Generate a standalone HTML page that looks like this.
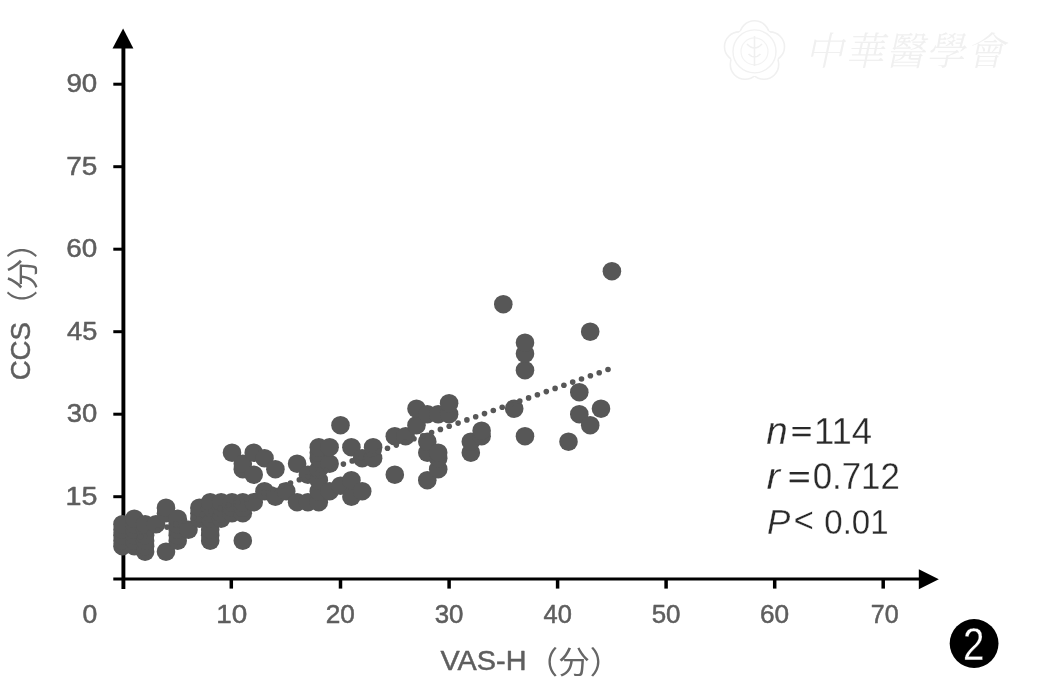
<!DOCTYPE html>
<html lang="zh"><head><meta charset="utf-8"><title>VAS-H / CCS</title>
<style>html,body{margin:0;padding:0;background:#fff;}body{width:1044px;height:699px;overflow:hidden;}svg{display:block;}text{font-family:"Liberation Sans","Noto Sans CJK SC",sans-serif;}text.wm{font-family:"Liberation Serif","Noto Serif CJK SC",serif;font-weight:300;}</style></head><body>
<svg width="1044" height="699" viewBox="0 0 1044 699">
<rect width="1044" height="699" fill="#ffffff"/>
<g id="chart">
<g id="watermark">
<circle cx="754.5" cy="35.6" r="14.8" fill="none" stroke="#f0f0f0" stroke-width="1.6"/><circle cx="769.7" cy="46.7" r="14.8" fill="none" stroke="#f0f0f0" stroke-width="1.6"/><circle cx="763.9" cy="64.5" r="14.8" fill="none" stroke="#f0f0f0" stroke-width="1.6"/><circle cx="745.1" cy="64.5" r="14.8" fill="none" stroke="#f0f0f0" stroke-width="1.6"/><circle cx="739.3" cy="46.7" r="14.8" fill="none" stroke="#f0f0f0" stroke-width="1.6"/>
<circle cx="754.5" cy="51.4" r="24.5" fill="#ffffff" stroke="none"/>
<circle cx="754.5" cy="51.4" r="21.5" fill="none" stroke="#f1f1f1" stroke-width="1.4"/>
<circle cx="754.5" cy="51.4" r="13.5" fill="none" stroke="#f3f3f3" stroke-width="1.2"/>
<path d="M754.5 36 V66 M747 44 Q754.5 52 762 44 M748.5 54 Q754.5 60 760.5 54" fill="none" stroke="#f0f0f0" stroke-width="1.6"/>
<g font-size="39" transform="skewX(-12)">
<text class="wm" x="819.0 859.3 899.6 939.9 980.2" y="65.5" fill="#f0f0f0">中華醫學會</text>
</g>
</g>
<g id="axes" stroke="#000" fill="none">
<line x1="123.4" y1="46" x2="123.4" y2="589" stroke-width="3.9"/>
<line x1="113.3" y1="579.0" x2="920" y2="579.0" stroke-width="3.0"/>
<line x1="113.3" y1="496.7" x2="123.4" y2="496.7" stroke-width="3.0"/>
<line x1="113.3" y1="414.2" x2="123.4" y2="414.2" stroke-width="3.0"/>
<line x1="113.3" y1="331.7" x2="123.4" y2="331.7" stroke-width="3.0"/>
<line x1="113.3" y1="249.2" x2="123.4" y2="249.2" stroke-width="3.0"/>
<line x1="113.3" y1="166.7" x2="123.4" y2="166.7" stroke-width="3.0"/>
<line x1="113.3" y1="84.2" x2="123.4" y2="84.2" stroke-width="3.0"/>
<line x1="231.3" y1="579.0" x2="231.3" y2="588.6" stroke-width="3.5"/>
<line x1="340.5" y1="579.0" x2="340.5" y2="588.6" stroke-width="3.5"/>
<line x1="449.1" y1="579.0" x2="449.1" y2="588.6" stroke-width="3.5"/>
<line x1="557.6" y1="579.0" x2="557.6" y2="588.6" stroke-width="3.5"/>
<line x1="666.1" y1="579.0" x2="666.1" y2="588.6" stroke-width="3.5"/>
<line x1="774.7" y1="579.0" x2="774.7" y2="588.6" stroke-width="3.5"/>
<line x1="883.2" y1="579.0" x2="883.2" y2="588.6" stroke-width="3.5"/>
</g>
<polygon points="123.1,28.4 133.4,48.6 112.5,48.6" fill="#000"/>
<polygon points="938.8,579.2 918.8,569.2 918.8,589.2" fill="#000"/>
<g id="dots" fill="#575757">
<circle cx="122.5" cy="546.2" r="9.3"/>
<circle cx="122.5" cy="540.7" r="9.3"/>
<circle cx="122.5" cy="535.2" r="9.3"/>
<circle cx="122.5" cy="529.7" r="9.3"/>
<circle cx="122.5" cy="524.2" r="9.3"/>
<circle cx="134.3" cy="546.2" r="9.3"/>
<circle cx="134.3" cy="540.7" r="9.3"/>
<circle cx="134.3" cy="535.2" r="9.3"/>
<circle cx="134.3" cy="529.7" r="9.3"/>
<circle cx="134.3" cy="524.2" r="9.3"/>
<circle cx="134.3" cy="518.7" r="9.3"/>
<circle cx="145.1" cy="551.7" r="9.3"/>
<circle cx="145.1" cy="546.2" r="9.3"/>
<circle cx="145.1" cy="540.7" r="9.3"/>
<circle cx="145.1" cy="535.2" r="9.3"/>
<circle cx="145.1" cy="529.7" r="9.3"/>
<circle cx="145.1" cy="524.2" r="9.3"/>
<circle cx="156.0" cy="524.2" r="9.3"/>
<circle cx="166.0" cy="551.7" r="9.3"/>
<circle cx="166.0" cy="513.2" r="9.3"/>
<circle cx="166.0" cy="507.7" r="9.3"/>
<circle cx="177.7" cy="540.7" r="9.3"/>
<circle cx="177.7" cy="535.2" r="9.3"/>
<circle cx="177.7" cy="529.7" r="9.3"/>
<circle cx="177.7" cy="524.2" r="9.3"/>
<circle cx="177.7" cy="518.7" r="9.3"/>
<circle cx="188.5" cy="529.7" r="9.3"/>
<circle cx="199.4" cy="518.7" r="9.3"/>
<circle cx="199.4" cy="513.2" r="9.3"/>
<circle cx="199.4" cy="507.7" r="9.3"/>
<circle cx="210.2" cy="540.7" r="9.3"/>
<circle cx="210.2" cy="535.2" r="9.3"/>
<circle cx="210.2" cy="529.7" r="9.3"/>
<circle cx="210.2" cy="518.7" r="9.3"/>
<circle cx="210.2" cy="513.2" r="9.3"/>
<circle cx="210.2" cy="507.7" r="9.3"/>
<circle cx="210.2" cy="502.2" r="9.3"/>
<circle cx="221.1" cy="518.7" r="9.3"/>
<circle cx="221.1" cy="513.2" r="9.3"/>
<circle cx="221.1" cy="507.7" r="9.3"/>
<circle cx="221.1" cy="502.2" r="9.3"/>
<circle cx="232.0" cy="513.2" r="9.3"/>
<circle cx="232.0" cy="507.7" r="9.3"/>
<circle cx="232.0" cy="502.2" r="9.3"/>
<circle cx="232.0" cy="452.7" r="9.3"/>
<circle cx="242.8" cy="540.7" r="9.3"/>
<circle cx="242.8" cy="513.2" r="9.3"/>
<circle cx="242.8" cy="507.7" r="9.3"/>
<circle cx="242.8" cy="502.2" r="9.3"/>
<circle cx="242.8" cy="469.2" r="9.3"/>
<circle cx="242.8" cy="463.7" r="9.3"/>
<circle cx="253.7" cy="502.2" r="9.3"/>
<circle cx="253.7" cy="474.7" r="9.3"/>
<circle cx="253.7" cy="452.7" r="9.3"/>
<circle cx="264.5" cy="491.2" r="9.3"/>
<circle cx="264.5" cy="458.2" r="9.3"/>
<circle cx="275.4" cy="496.7" r="9.3"/>
<circle cx="275.4" cy="469.2" r="9.3"/>
<circle cx="286.2" cy="491.2" r="9.3"/>
<circle cx="297.1" cy="502.2" r="9.3"/>
<circle cx="297.1" cy="463.7" r="9.3"/>
<circle cx="307.9" cy="502.2" r="9.3"/>
<circle cx="307.9" cy="474.7" r="9.3"/>
<circle cx="318.8" cy="502.2" r="9.3"/>
<circle cx="318.8" cy="491.2" r="9.3"/>
<circle cx="318.8" cy="480.2" r="9.3"/>
<circle cx="318.8" cy="469.2" r="9.3"/>
<circle cx="318.8" cy="458.2" r="9.3"/>
<circle cx="318.8" cy="452.7" r="9.3"/>
<circle cx="318.8" cy="447.2" r="9.3"/>
<circle cx="329.6" cy="491.2" r="9.3"/>
<circle cx="329.6" cy="463.7" r="9.3"/>
<circle cx="329.6" cy="447.2" r="9.3"/>
<circle cx="340.5" cy="485.7" r="9.3"/>
<circle cx="340.5" cy="425.2" r="9.3"/>
<circle cx="351.4" cy="496.7" r="9.3"/>
<circle cx="351.4" cy="480.2" r="9.3"/>
<circle cx="351.4" cy="447.2" r="9.3"/>
<circle cx="362.2" cy="491.2" r="9.3"/>
<circle cx="362.2" cy="458.2" r="9.3"/>
<circle cx="373.1" cy="458.2" r="9.3"/>
<circle cx="373.1" cy="447.2" r="9.3"/>
<circle cx="394.8" cy="474.7" r="9.3"/>
<circle cx="394.8" cy="436.2" r="9.3"/>
<circle cx="405.6" cy="436.2" r="9.3"/>
<circle cx="416.5" cy="425.2" r="9.3"/>
<circle cx="416.5" cy="408.7" r="9.3"/>
<circle cx="427.3" cy="480.2" r="9.3"/>
<circle cx="427.3" cy="452.7" r="9.3"/>
<circle cx="427.3" cy="441.7" r="9.3"/>
<circle cx="427.3" cy="414.2" r="9.3"/>
<circle cx="438.2" cy="469.2" r="9.3"/>
<circle cx="438.2" cy="458.2" r="9.3"/>
<circle cx="438.2" cy="452.7" r="9.3"/>
<circle cx="438.2" cy="414.2" r="9.3"/>
<circle cx="449.1" cy="414.2" r="9.3"/>
<circle cx="449.1" cy="403.2" r="9.3"/>
<circle cx="470.8" cy="452.7" r="9.3"/>
<circle cx="470.8" cy="441.7" r="9.3"/>
<circle cx="481.6" cy="436.2" r="9.3"/>
<circle cx="481.6" cy="430.7" r="9.3"/>
<circle cx="503.3" cy="304.2" r="9.3"/>
<circle cx="514.2" cy="408.7" r="9.3"/>
<circle cx="525.0" cy="436.2" r="9.3"/>
<circle cx="525.0" cy="370.2" r="9.3"/>
<circle cx="525.0" cy="353.7" r="9.3"/>
<circle cx="525.0" cy="342.7" r="9.3"/>
<circle cx="568.5" cy="441.7" r="9.3"/>
<circle cx="579.3" cy="414.2" r="9.3"/>
<circle cx="579.3" cy="392.2" r="9.3"/>
<circle cx="590.2" cy="425.2" r="9.3"/>
<circle cx="590.2" cy="331.7" r="9.3"/>
<circle cx="601.0" cy="408.7" r="9.3"/>
<circle cx="611.9" cy="271.2" r="9.3"/>
</g>
<g id="trend" fill="#575757">
<circle cx="608.0" cy="369.5" r="2.8"/>
<circle cx="599.2" cy="372.7" r="2.8"/>
<circle cx="590.4" cy="375.8" r="2.8"/>
<circle cx="581.5" cy="379.0" r="2.8"/>
<circle cx="572.7" cy="382.1" r="2.8"/>
<circle cx="563.9" cy="385.3" r="2.8"/>
<circle cx="555.1" cy="388.4" r="2.8"/>
<circle cx="546.3" cy="391.6" r="2.8"/>
<circle cx="537.4" cy="394.7" r="2.8"/>
<circle cx="528.6" cy="397.9" r="2.8"/>
<circle cx="519.8" cy="401.0" r="2.8"/>
<circle cx="511.0" cy="404.2" r="2.8"/>
<circle cx="502.2" cy="407.3" r="2.8"/>
<circle cx="493.3" cy="410.5" r="2.8"/>
<circle cx="484.5" cy="413.6" r="2.8"/>
<circle cx="475.7" cy="416.8" r="2.8"/>
<circle cx="466.9" cy="419.9" r="2.8"/>
<circle cx="458.1" cy="423.1" r="2.8"/>
<circle cx="449.2" cy="426.2" r="2.8"/>
<circle cx="440.4" cy="429.4" r="2.8"/>
<circle cx="431.6" cy="432.5" r="2.8"/>
<circle cx="422.8" cy="435.7" r="2.8"/>
<circle cx="414.0" cy="438.8" r="2.8"/>
<circle cx="405.1" cy="442.0" r="2.8"/>
<circle cx="396.3" cy="445.1" r="2.8"/>
<circle cx="387.5" cy="448.3" r="2.8"/>
<circle cx="378.7" cy="451.5" r="2.8"/>
<circle cx="369.9" cy="454.6" r="2.8"/>
<circle cx="361.0" cy="457.8" r="2.8"/>
<circle cx="352.2" cy="460.9" r="2.8"/>
<circle cx="343.4" cy="464.1" r="2.8"/>
<circle cx="334.6" cy="467.2" r="2.8"/>
<circle cx="325.8" cy="470.4" r="2.8"/>
<circle cx="316.9" cy="473.5" r="2.8"/>
<circle cx="308.1" cy="476.7" r="2.8"/>
<circle cx="299.3" cy="479.8" r="2.8"/>
<circle cx="290.5" cy="483.0" r="2.8"/>
<circle cx="281.7" cy="486.1" r="2.8"/>
<circle cx="272.8" cy="489.3" r="2.8"/>
<circle cx="264.0" cy="492.4" r="2.8"/>
<circle cx="255.2" cy="495.6" r="2.8"/>
<circle cx="246.4" cy="498.7" r="2.8"/>
<circle cx="237.6" cy="501.9" r="2.8"/>
<circle cx="228.7" cy="505.0" r="2.8"/>
<circle cx="219.9" cy="508.2" r="2.8"/>
<circle cx="211.1" cy="511.3" r="2.8"/>
<circle cx="202.3" cy="514.5" r="2.8"/>
<circle cx="193.5" cy="517.6" r="2.8"/>
<circle cx="184.6" cy="520.8" r="2.8"/>
<circle cx="175.8" cy="523.9" r="2.8"/>
<circle cx="167.0" cy="527.1" r="2.8"/>
<circle cx="158.2" cy="530.3" r="2.8"/>
<circle cx="149.4" cy="533.4" r="2.8"/>
<circle cx="140.5" cy="536.6" r="2.8"/>
</g>
<circle cx="974.1" cy="643.5" r="24.4" fill="#000"/>
<g id="labels">
<text><tspan x="65.50" y="504.50" font-family='"Liberation Sans","Noto Sans CJK SC",sans-serif' font-size="25.29" fill="#5e5e5e" stroke="#5e5e5e" stroke-width="0.50" stroke-linejoin="round" textLength="31.93" lengthAdjust="spacingAndGlyphs">15</tspan></text>
<text><tspan x="66.69" y="422.00" font-family='"Liberation Sans","Noto Sans CJK SC",sans-serif' font-size="24.93" fill="#5e5e5e" stroke="#5e5e5e" stroke-width="0.50" stroke-linejoin="round" textLength="30.55" lengthAdjust="spacingAndGlyphs">30</tspan></text>
<text><tspan x="67.11" y="339.50" font-family='"Liberation Sans","Noto Sans CJK SC",sans-serif' font-size="25.29" fill="#5e5e5e" stroke="#5e5e5e" stroke-width="0.50" stroke-linejoin="round" textLength="30.26" lengthAdjust="spacingAndGlyphs">45</tspan></text>
<text><tspan x="66.26" y="257.00" font-family='"Liberation Sans","Noto Sans CJK SC",sans-serif' font-size="24.93" fill="#5e5e5e" stroke="#5e5e5e" stroke-width="0.50" stroke-linejoin="round" textLength="31.00" lengthAdjust="spacingAndGlyphs">60</tspan></text>
<text><tspan x="66.25" y="174.50" font-family='"Liberation Sans","Noto Sans CJK SC",sans-serif' font-size="25.29" fill="#5e5e5e" stroke="#5e5e5e" stroke-width="0.50" stroke-linejoin="round" textLength="31.15" lengthAdjust="spacingAndGlyphs">75</tspan></text>
<text><tspan x="66.40" y="92.00" font-family='"Liberation Sans","Noto Sans CJK SC",sans-serif' font-size="24.93" fill="#5e5e5e" stroke="#5e5e5e" stroke-width="0.50" stroke-linejoin="round" textLength="30.85" lengthAdjust="spacingAndGlyphs">90</tspan></text>
<text><tspan x="82.42" y="623.20" font-family='"Liberation Sans","Noto Sans CJK SC",sans-serif' font-size="24.93" fill="#5e5e5e" stroke="#5e5e5e" stroke-width="0.50" stroke-linejoin="round" textLength="14.79" lengthAdjust="spacingAndGlyphs">0</tspan></text>
<text><tspan x="216.31" y="623.20" font-family='"Liberation Sans","Noto Sans CJK SC",sans-serif' font-size="24.93" fill="#5e5e5e" stroke="#5e5e5e" stroke-width="0.50" stroke-linejoin="round" textLength="31.00" lengthAdjust="spacingAndGlyphs">10</tspan></text>
<text><tspan x="325.74" y="623.20" font-family='"Liberation Sans","Noto Sans CJK SC",sans-serif' font-size="24.93" fill="#5e5e5e" stroke="#5e5e5e" stroke-width="0.50" stroke-linejoin="round" textLength="29.16" lengthAdjust="spacingAndGlyphs">20</tspan></text>
<text><tspan x="434.70" y="623.20" font-family='"Liberation Sans","Noto Sans CJK SC",sans-serif' font-size="24.93" fill="#5e5e5e" stroke="#5e5e5e" stroke-width="0.50" stroke-linejoin="round" textLength="28.74" lengthAdjust="spacingAndGlyphs">30</tspan></text>
<text><tspan x="543.64" y="623.20" font-family='"Liberation Sans","Noto Sans CJK SC",sans-serif' font-size="24.93" fill="#5e5e5e" stroke="#5e5e5e" stroke-width="0.50" stroke-linejoin="round" textLength="28.33" lengthAdjust="spacingAndGlyphs">40</tspan></text>
<text><tspan x="651.66" y="623.20" font-family='"Liberation Sans","Noto Sans CJK SC",sans-serif' font-size="24.93" fill="#5e5e5e" stroke="#5e5e5e" stroke-width="0.50" stroke-linejoin="round" textLength="28.88" lengthAdjust="spacingAndGlyphs">50</tspan></text>
<text><tspan x="759.94" y="623.20" font-family='"Liberation Sans","Noto Sans CJK SC",sans-serif' font-size="24.93" fill="#5e5e5e" stroke="#5e5e5e" stroke-width="0.50" stroke-linejoin="round" textLength="29.16" lengthAdjust="spacingAndGlyphs">60</tspan></text>
<text><tspan x="870.75" y="623.20" font-family='"Liberation Sans","Noto Sans CJK SC",sans-serif' font-size="24.93" fill="#5e5e5e" stroke="#5e5e5e" stroke-width="0.50" stroke-linejoin="round" textLength="27.86" lengthAdjust="spacingAndGlyphs">70</tspan></text>
<text><tspan x="440.55" y="670.27" font-family='"Liberation Sans","Noto Sans CJK SC",sans-serif' font-size="27.55" fill="#5e5e5e" stroke="#5e5e5e" stroke-width="0.50" stroke-linejoin="round" textLength="85.92" lengthAdjust="spacingAndGlyphs">VAS-H</tspan><tspan x="526.57" y="673.37" font-family='"Noto Sans CJK SC","Liberation Sans",sans-serif' font-size="30.89" fill="#666666" textLength="94.92" lengthAdjust="spacingAndGlyphs">（分）</tspan></text>
<text transform="rotate(-90)"><tspan x="-380.33" y="30.36" font-family='"Liberation Sans","Noto Sans CJK SC",sans-serif' font-size="28.53" fill="#5e5e5e" stroke="#5e5e5e" stroke-width="0.50" stroke-linejoin="round" textLength="58.34" lengthAdjust="spacingAndGlyphs">CCS</tspan><tspan x="-321.55" y="33.63" font-family='"Noto Sans CJK SC","Liberation Sans",sans-serif' font-size="31.31" fill="#666666" textLength="94.55" lengthAdjust="spacingAndGlyphs">（分）</tspan></text>
<text><tspan x="766.27" y="443.96" font-family='"Liberation Sans","Noto Sans CJK SC",sans-serif' font-size="38.17" fill="#2a2a2a" font-style="italic" stroke="#ffffff" stroke-width="0.30" stroke-linejoin="round" textLength="21.47" lengthAdjust="spacingAndGlyphs">n</tspan><tspan x="791.09" y="440.76" font-family='"Liberation Sans","Noto Sans CJK SC",sans-serif' font-size="27.54" fill="#2a2a2a" stroke="#2a2a2a" stroke-width="0.25" stroke-linejoin="round" textLength="21.15" lengthAdjust="spacingAndGlyphs">=</tspan><tspan x="813.91" y="443.97" font-family='"Liberation Sans","Noto Sans CJK SC",sans-serif' font-size="36.40" fill="#2a2a2a" stroke="#ffffff" stroke-width="0.30" stroke-linejoin="round" textLength="58.19" lengthAdjust="spacingAndGlyphs">114</tspan></text>
<text><tspan x="766.44" y="489.45" font-family='"Liberation Sans","Noto Sans CJK SC",sans-serif' font-size="37.04" fill="#2a2a2a" font-style="italic" stroke="#ffffff" stroke-width="0.30" stroke-linejoin="round" textLength="13.51" lengthAdjust="spacingAndGlyphs">r</tspan> <tspan x="787.98" y="486.57" font-family='"Liberation Sans","Noto Sans CJK SC",sans-serif' font-size="28.77" fill="#2a2a2a" stroke="#2a2a2a" stroke-width="0.25" stroke-linejoin="round" textLength="22.58" lengthAdjust="spacingAndGlyphs">=</tspan><tspan x="812.73" y="489.28" font-family='"Liberation Sans","Noto Sans CJK SC",sans-serif' font-size="37.46" fill="#2a2a2a" stroke="#ffffff" stroke-width="0.30" stroke-linejoin="round" textLength="87.02" lengthAdjust="spacingAndGlyphs">0.712</tspan></text>
<text><tspan x="766.90" y="533.65" font-family='"Liberation Sans","Noto Sans CJK SC",sans-serif' font-size="35.65" fill="#2a2a2a" font-style="italic" stroke="#ffffff" stroke-width="0.30" stroke-linejoin="round" textLength="23.32" lengthAdjust="spacingAndGlyphs">P</tspan><tspan x="793.75" y="532.20" font-family='"Liberation Sans","Noto Sans CJK SC",sans-serif' font-size="34.71" fill="#2a2a2a" stroke="#ffffff" stroke-width="0.20" stroke-linejoin="round" textLength="20.06" lengthAdjust="spacingAndGlyphs">&lt;</tspan> <tspan x="824.29" y="533.50" font-family='"Liberation Sans","Noto Sans CJK SC",sans-serif' font-size="34.51" fill="#2a2a2a" stroke="#ffffff" stroke-width="0.30" stroke-linejoin="round" textLength="64.38" lengthAdjust="spacingAndGlyphs">0.01</tspan></text>
<text><tspan x="962.93" y="659.55" font-family='"Liberation Sans","Noto Sans CJK SC",sans-serif' font-size="45.57" fill="#ffffff" stroke="#000000" stroke-width="0.30" stroke-linejoin="round" textLength="21.40" lengthAdjust="spacingAndGlyphs">2</tspan></text>
</g>
</g>
</svg></body></html>
